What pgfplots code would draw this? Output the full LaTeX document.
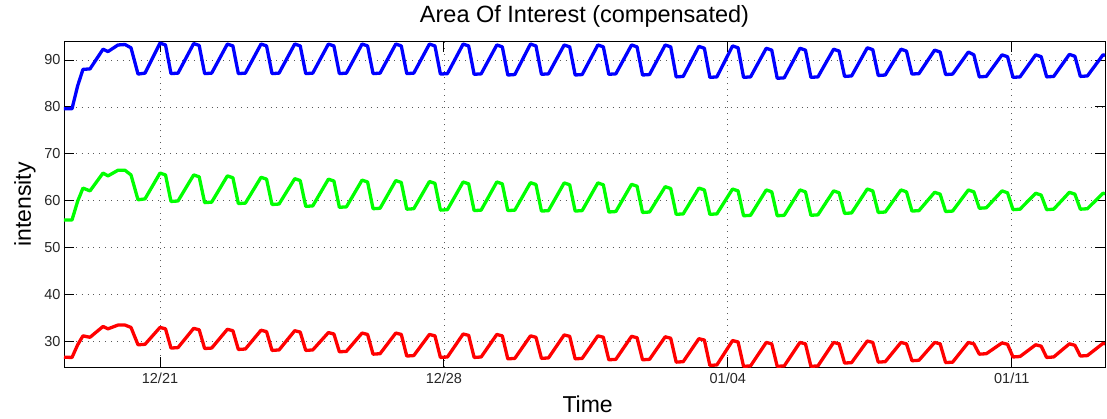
\documentclass[border=0pt]{standalone}
\usepackage{fontspec}
\setmainfont{Liberation Sans}
\usepackage{pgfplots}
\pgfplotsset{compat=1.18}
\usepackage{pgfplotstable}

\pgfplotstableread{
x y
-2.367 79.6
-2.170 79.6
-2.030 84.5
-1.899 88.0
-1.726 88.1
-1.405 92.3
-1.282 91.8
-1.036 93.2
-0.863 93.3
-0.715 92.6
-0.542 87.0
-0.370 87.2
0.000 93.6
0.136 93.2
0.271 87.1
0.444 87.2
0.830 93.5
0.966 93.1
1.101 87.1
1.274 87.2
1.661 93.4
1.797 93.0
1.932 87.1
2.105 87.2
2.491 93.4
2.627 93.0
2.762 87.1
2.935 87.2
3.322 93.4
3.458 93.0
3.593 87.1
3.766 87.2
4.152 93.4
4.288 93.0
4.423 87.1
4.596 87.2
4.982 93.4
5.118 93.0
5.253 87.1
5.426 87.2
5.813 93.4
5.949 93.0
6.084 87.1
6.257 87.2
6.643 93.4
6.779 93.0
6.914 87.0
7.087 87.1
7.474 93.4
7.610 93.0
7.745 86.95
7.918 87.05
8.304 93.2
8.440 92.8
8.575 86.8
8.748 86.9
9.134 93.4
9.270 93.0
9.405 86.95
9.578 87.05
9.965 93.2
10.101 92.8
10.236 86.8
10.409 86.9
10.795 93.2
10.931 92.8
11.066 86.95
11.239 87.05
11.626 93.2
11.762 92.8
11.897 86.8
12.070 86.9
12.456 93.2
12.592 92.8
12.727 86.4
12.900 86.5
13.286 92.9
13.422 92.5
13.557 86.3
13.730 86.4
14.117 93.0
14.253 92.6
14.388 86.3
14.561 86.4
14.947 92.5
15.083 92.1
15.218 86.1
15.391 86.2
15.778 92.5
15.914 92.1
16.049 86.3
16.222 86.4
16.608 92.3
16.744 91.9
16.879 86.5
17.052 86.6
17.438 92.6
17.574 92.2
17.709 86.7
17.882 86.8
18.269 92.3
18.405 91.9
18.540 87.0
18.713 87.1
19.099 92.1
19.235 91.7
19.370 86.9
19.543 87.0
19.930 91.7
20.066 91.1
20.201 86.4
20.374 86.5
20.760 91.1
20.896 90.7
21.031 86.3
21.204 86.4
21.590 91.1
21.726 90.7
21.861 86.4
22.034 86.5
22.421 91.2
22.557 90.8
22.692 86.5
22.865 86.6
23.251 91.1
23.300 91.0
}\blueseries

\pgfplotstableread{
x y
-2.367 55.9
-2.170 55.9
-2.030 59.9
-1.899 62.7
-1.726 62.1
-1.405 65.9
-1.282 65.3
-1.036 66.5
-0.863 66.5
-0.715 65.5
-0.542 60.2
-0.370 60.4
0.000 65.9
0.136 65.5
0.271 59.85
0.444 59.95
0.830 65.5
0.966 65.1
1.101 59.6
1.274 59.7
1.661 65.3
1.797 64.9
1.932 59.4
2.105 59.5
2.491 65.0
2.627 64.6
2.762 59.2
2.935 59.3
3.322 64.7
3.458 64.3
3.593 58.8
3.766 58.9
4.152 64.6
4.288 64.2
4.423 58.6
4.596 58.7
4.982 64.4
5.118 64.0
5.253 58.3
5.426 58.4
5.813 64.3
5.949 63.9
6.084 58.2
6.257 58.3
6.643 64.1
6.779 63.7
6.914 58.0
7.087 58.1
7.474 64.0
7.610 63.6
7.745 57.9
7.918 58.0
8.304 64.0
8.440 63.6
8.575 57.9
8.748 58.0
9.134 63.85
9.270 63.45
9.405 57.8
9.578 57.9
9.965 63.8
10.101 63.4
10.236 57.8
10.409 57.9
10.795 63.8
10.931 63.4
11.066 57.6
11.239 57.7
11.626 63.5
11.762 63.1
11.897 57.5
12.070 57.6
12.456 63.0
12.592 62.6
12.727 57.1
12.900 57.2
13.286 62.7
13.422 62.3
13.557 57.1
13.730 57.2
14.117 62.5
14.253 62.1
14.388 56.8
14.561 56.9
14.947 62.3
15.083 61.9
15.218 56.8
15.391 56.9
15.778 62.3
15.914 61.9
16.049 56.9
16.222 57.0
16.608 62.1
16.744 61.7
16.879 57.3
17.052 57.4
17.438 62.5
17.574 62.1
17.709 57.5
17.882 57.6
18.269 62.3
18.405 61.9
18.540 57.8
18.713 57.9
19.099 61.8
19.235 61.4
19.370 57.7
19.543 57.8
19.930 62.3
20.066 61.9
20.201 58.4
20.374 58.5
20.760 62.1
20.896 61.7
21.031 58.1
21.204 58.2
21.590 61.6
21.726 61.2
21.861 58.1
22.034 58.2
22.421 61.8
22.557 61.4
22.692 58.2
22.865 58.3
23.251 61.6
23.300 61.5
}\greenseries

\pgfplotstableread{
x y
-2.367 26.65
-2.170 26.6
-2.030 29.3
-1.899 31.2
-1.726 30.9
-1.405 33.2
-1.282 32.7
-1.036 33.5
-0.863 33.5
-0.715 33.0
-0.542 29.3
-0.370 29.4
0.000 33.0
0.136 32.7
0.271 28.6
0.444 28.7
0.830 32.8
0.966 32.5
1.101 28.5
1.274 28.6
1.661 32.6
1.797 32.3
1.932 28.3
2.105 28.4
2.491 32.4
2.627 32.1
2.762 28.1
2.935 28.2
3.322 32.3
3.458 32.0
3.593 28.1
3.766 28.2
4.152 31.9
4.288 31.6
4.423 27.8
4.596 27.9
4.982 31.8
5.118 31.5
5.253 27.3
5.426 27.4
5.813 31.8
5.949 31.5
6.084 26.9
6.257 27.0
6.643 31.5
6.779 31.2
6.914 26.6
7.087 26.7
7.474 31.6
7.610 31.3
7.745 26.6
7.918 26.7
8.304 31.5
8.440 31.2
8.575 26.3
8.748 26.4
9.134 31.2
9.270 30.9
9.405 26.4
9.578 26.5
9.965 31.4
10.101 31.1
10.236 26.3
10.409 26.4
10.795 31.2
10.931 30.9
11.066 26.1
11.239 26.2
11.626 31.1
11.762 30.8
11.897 26.1
12.070 26.2
12.456 31.0
12.592 30.7
12.727 25.6
12.900 25.7
13.286 30.6
13.422 30.3
13.557 24.9
13.730 25.0
14.117 30.2
14.253 29.9
14.388 24.7
14.561 24.8
14.947 29.8
15.083 29.5
15.218 24.7
15.391 24.8
15.778 29.8
15.914 29.5
16.049 24.7
16.222 24.8
16.608 29.8
16.744 29.5
16.879 25.4
17.052 25.5
17.438 30.1
17.574 29.8
17.709 25.6
17.882 25.7
18.269 29.8
18.405 29.5
18.540 25.9
18.713 26.0
19.099 29.8
19.235 29.5
19.370 25.5
19.543 25.6
19.930 29.8
20.066 29.5
20.201 27.3
20.374 27.4
20.760 29.7
20.896 29.4
21.031 26.7
21.204 26.8
21.590 29.3
21.726 29.0
21.861 26.6
22.034 26.7
22.421 29.5
22.557 29.2
22.692 26.9
22.865 27.0
23.251 29.6
23.300 29.5
}\redseries

\begin{document}
\begin{tikzpicture}
\begin{axis}[
  at={(0,0)}, anchor=south west,
  scale only axis,
  width=1041bp, height=325.6bp,
  xmin=-2.367, xmax=23.30,
  ymin=24.5, ymax=93.9,
  xtick={0,7,14,21},
  xticklabels={12/21,12/28,01/04,01/11},
  ytick={30,40,50,60,70,80,90},
  /pgf/number format/assume math mode=true,
  tick label style={font=\fontsize{14.5bp}{17bp}\selectfont, black!85},
  xticklabel style={yshift=-2.5bp},
  tick align=inside,
  major tick length=10bp,
  tick style={black, line width=0.9bp},
  axis line style={black, line width=0.9bp},
  grid=major,
  major grid style={black!65, line width=0.8bp, dash pattern=on 0.9bp off 5bp},
  title={Area Of Interest (compensated)},
  title style={font=\fontsize{23.5bp}{27bp}\selectfont, at={(axis description cs:0.5,1.0412)}, anchor=base},
  xlabel={Time},
  xlabel style={font=\fontsize{23bp}{27bp}\selectfont, at={(axis description cs:0.503,-0.1373)}, anchor=base},
  ylabel={intensity},
  ylabel style={font=\fontsize{23bp}{27bp}\selectfont, at={(axis description cs:-0.0318,0.5)}, anchor=base, rotate=0},
  clip=true,
]
\addplot[blue, line width=3.3bp, line join=round] table {\blueseries};
\addplot[color={rgb,255:red,0;green,255;blue,0}, line width=3.3bp, line join=round] table {\greenseries};
\addplot[red, line width=3.3bp, line join=round] table {\redseries};
\end{axis}
\pgfresetboundingbox
\useasboundingbox (-64bp,-51.7bp) rectangle (1043bp,367.3bp);
\end{tikzpicture}
\end{document}
